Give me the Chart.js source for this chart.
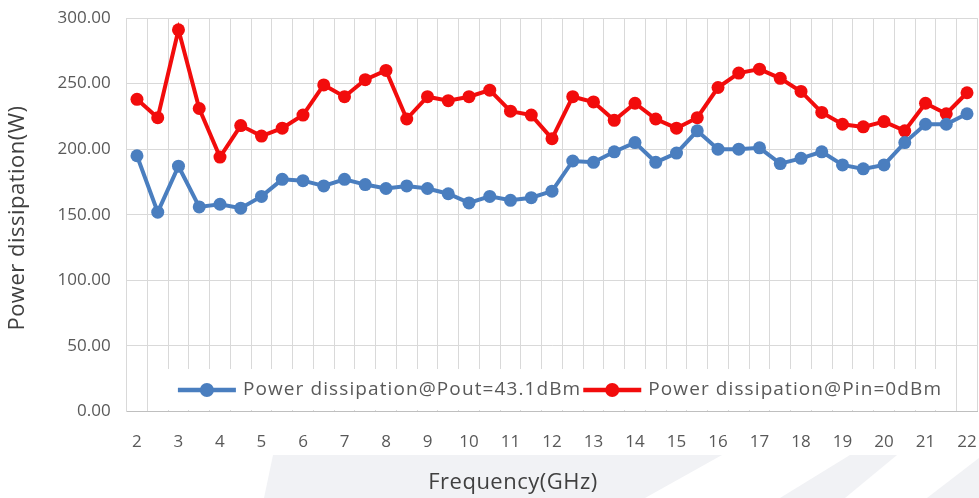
<!DOCTYPE html>
<html>
<head>
<meta charset="utf-8">
<style>
html,body{margin:0;padding:0;background:#ffffff;}
#wrap{width:979px;height:498px;position:relative;}
</style>
<script src="https://cdn.jsdelivr.net/npm/chart.js@4/dist/chart.umd.min.js"></script>
</head>
<body>
<div id="wrap"><canvas id="c" width="979" height="498"></canvas></div>
<script>
// ---- data ----
const frequencies = ['2','2.5','3','3.5','4','4.5','5','5.5','6','6.5','7','7.5','8','8.5','9','9.5','10','10.5','11','11.5','12','12.5','13','13.5','14','14.5','15','15.5','16','16.5','17','17.5','18','18.5','19','19.5','20','20.5','21','21.5','22'];
const poutDissipation = [195,152,187,156,158,155,164,177,176,172,177,173,170,172,170,166,159,164,161,163,168,191,190,198,205,190,197,214,200,200,201,189,193,198,188,185,188,205,219,219,227];
const pinDissipation = [238,224,291,231,194,218,210,216,226,249,240,253,260,223,240,237,240,245,229,226,208,240,236,222,235,223,216,224,247,258,261,254,244,228,219,217,221,214,235,227,243];
const seriesNames = ['Power dissipation@Pout=43.1dBm','Power dissipation@Pin=0dBm'];
const xTitle = 'Frequency(GHz)';
const yTitle = 'Power dissipation(W)';
const yMin = 0, yMax = 300, yStep = 50;

const FONT = "'Open Sans', 'Liberation Sans', sans-serif";
const BLUE = '#4a7ebf';
const RED = '#f20c0c';

const bgDecor = {
  id: 'bgDecor',
  beforeDraw(chart) {
    const ctx = chart.ctx;
    ctx.save();
    ctx.fillStyle = '#ffffff';
    ctx.fillRect(0, 0, chart.width, chart.height);
    ctx.fillStyle = '#f1f2f5';
    const polys = [
      [[273,455],[722,455],[645,498],[264,498]],
      [[850,455],[897,455],[845,498],[780,498]],
      [[979,458],[979,498],[927,498]]
    ];
    polys.forEach(p => {
      ctx.beginPath();
      p.forEach((pt, i) => i ? ctx.lineTo(pt[0], pt[1]) : ctx.moveTo(pt[0], pt[1]));
      ctx.closePath();
      ctx.fill();
    });
    ctx.restore();
  }
};

function spacedText(ctx, text, x, y, spacing) {
  if ('letterSpacing' in ctx) {
    ctx.letterSpacing = spacing + 'px';
    ctx.fillText(text, x, y);
    ctx.letterSpacing = '0px';
  } else {
    ctx.fillText(text, x, y);
  }
}
function spacedWidth(ctx, text, spacing) {
  if ('letterSpacing' in ctx) ctx.letterSpacing = '0px';
  return ctx.measureText(text).width + spacing * text.length;
}

const axisTitles = {
  id: 'axisTitles',
  afterDraw(chart) {
    const ctx = chart.ctx;
    ctx.save();
    ctx.fillStyle = '#404040';
    ctx.font = '22px ' + FONT;
    ctx.textAlign = 'left';
    ctx.textBaseline = 'middle';
    const sp = 0.5;
    let w = spacedWidth(ctx, xTitle, sp);
    spacedText(ctx, xTitle, 513 - w / 2, 483, sp);
    w = spacedWidth(ctx, yTitle, sp);
    ctx.translate(18, 218);
    ctx.rotate(-Math.PI / 2);
    spacedText(ctx, yTitle, -w / 2, 0, sp);
    ctx.restore();
  }
};

const insideLegend = {
  id: 'insideLegend',
  afterDatasetsDraw(chart) {
    const ctx = chart.ctx;
    ctx.save();
    const box = {x: 165, y: 369, w: 790, h: 41};
    ctx.fillStyle = '#ffffff';
    ctx.fillRect(box.x, box.y, box.w, box.h);
    ctx.font = '19px ' + FONT;
    const sp = 1.1;
    const lineLen = 58, gapText = 7, gapItem = 2;
    const items = chart.data.datasets.map(ds => ({
      label: ds.label, color: ds.borderColor, w: spacedWidth(ctx, ds.label, sp)
    }));
    let total = 0;
    items.forEach((it, i) => { total += lineLen + gapText + it.w + (i < items.length - 1 ? gapItem : 0); });
    let x = box.x + (box.w - total) / 2;
    const cy = 390;
    items.forEach(it => {
      ctx.strokeStyle = it.color;
      ctx.lineWidth = 4.5;
      ctx.beginPath();
      ctx.moveTo(x, cy);
      ctx.lineTo(x + lineLen, cy);
      ctx.stroke();
      ctx.fillStyle = it.color;
      ctx.beginPath();
      ctx.arc(x + lineLen / 2, cy, 7, 0, Math.PI * 2);
      ctx.fill();
      x += lineLen + gapText;
      ctx.fillStyle = '#595959';
      ctx.textAlign = 'left';
      ctx.textBaseline = 'middle';
      spacedText(ctx, it.label, x, cy, sp);
      x += it.w + gapItem;
    });
    ctx.restore();
  }
};

new Chart(document.getElementById('c'), {
  type: 'line',
  data: {
    labels: frequencies,
    datasets: [
      {label: seriesNames[0], data: poutDissipation, borderColor: BLUE, backgroundColor: BLUE,
       pointBackgroundColor: BLUE, pointBorderColor: BLUE, borderWidth: 4, pointRadius: 6.5, pointBorderWidth: 0, tension: 0},
      {label: seriesNames[1], data: pinDissipation, borderColor: RED, backgroundColor: RED,
       pointBackgroundColor: RED, pointBorderColor: RED, borderWidth: 4, pointRadius: 6.5, pointBorderWidth: 0, tension: 0}
    ]
  },
  options: {
    responsive: false,
    animation: false,
    devicePixelRatio: 1,
    layout: {autoPadding: false, padding: {top: 18, right: 1.6, left: 0, bottom: 0}},
    plugins: {legend: {display: false}, tooltip: {enabled: false}, title: {display: false}},
    scales: {
      x: {
        type: 'category',
        offset: true,
        grid: {offset: true, color: '#d9d9d9', lineWidth: 1, drawTicks: false},
        border: {display: true, color: '#bfbfbf'},
        ticks: {
          autoSkip: false, maxRotation: 0, minRotation: 0, padding: 20,
          color: '#595959', font: {family: FONT, size: 17},
          callback: function(v, i) { const l = frequencies[i]; return Number(l) % 1 === 0 ? l : ''; }
        },
        afterFit(s) { s.height = 86.5; s.paddingLeft = 0; s.paddingRight = 0; }
      },
      y: {
        min: yMin, max: yMax,
        grid: {color: '#d9d9d9', lineWidth: 1, drawTicks: false},
        border: {display: true, color: '#d9d9d9'},
        ticks: {
          stepSize: yStep, padding: 16, color: '#595959', font: {family: FONT, size: 17},
          callback: v => Number(v).toFixed(2)
        },
        afterFit(s) { s.width = 126.6; s.paddingTop = 0; s.paddingBottom = 0; }
      }
    }
  },
  plugins: [bgDecor, axisTitles, insideLegend]
});
</script>
</body>
</html>
